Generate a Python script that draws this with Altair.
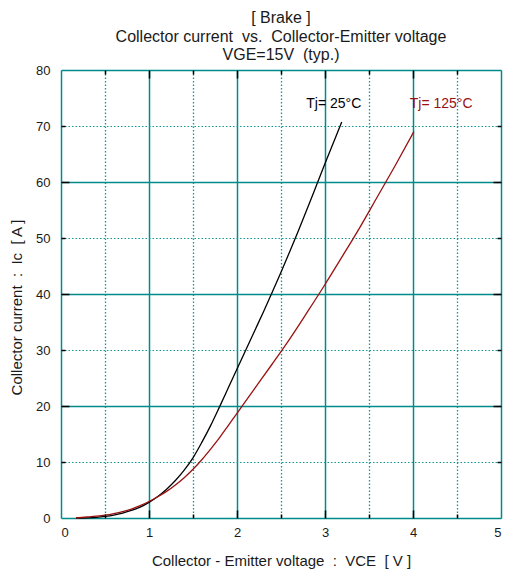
import altair as alt
import pandas as pd

# ---- data ----
vce_25 = [0.17, 0.3, 0.4, 0.5, 0.6, 0.7, 0.8, 0.9, 1.0, 1.1, 1.2, 1.3, 1.4, 1.5, 1.6, 1.7, 1.8, 1.9, 2.0,
          2.1, 2.2, 2.3, 2.4, 2.5, 2.6, 2.7, 2.8, 2.9, 3.0, 3.1, 3.19]
ic_25 = [0.0, 0.04, 0.12, 0.28, 0.52, 0.88, 1.35, 1.95, 2.8, 3.85, 5.15, 6.7, 8.55, 10.75, 13.5, 16.5, 19.8, 23.2, 26.6,
         30.0, 33.4, 36.8, 40.3, 43.9, 47.6, 51.4, 55.3, 59.3, 63.3, 67.2, 70.7]

vce_125 = [0.17, 0.3, 0.4, 0.5, 0.6, 0.7, 0.8, 0.9, 1.0, 1.1, 1.2, 1.3, 1.4, 1.5, 1.6, 1.7, 1.8, 1.9, 2.0,
           2.2, 2.4, 2.6, 2.8, 3.0, 3.2, 3.4, 3.6, 3.8, 4.01]
ic_125 = [0.0, 0.18, 0.33, 0.52, 0.8, 1.15, 1.6, 2.2, 2.95, 3.8, 4.75, 5.9, 7.2, 8.7, 10.4, 12.3, 14.3, 16.5, 18.7,
          23.1, 27.5, 32.0, 36.8, 41.7, 46.8, 52.0, 57.5, 63.0, 69.0]

series_names = ["Tj= 25°C", "Tj= 125°C"]
series_colors = ["#000000", "#991111"]

label_x = [3.1, 4.32]
label_y = [74.0, 74.0]

x_ticks = [0, 0.5, 1, 1.5, 2, 2.5, 3, 3.5, 4, 4.5, 5]
y_ticks = [0, 10, 20, 30, 40, 50, 60, 70, 80]
x_major = [1, 2, 3, 4]
y_major = [20, 40, 60]
x_minor = [0.5, 1.5, 2.5, 3.5, 4.5]
y_minor = [10, 30, 50, 70]

NB = "\u00a0"
title_lines = ["[ Brake ]",
               f"Collector current {NB}vs. {NB}Collector-Emitter voltage",
               f"VGE=15V {NB}(typ.)"]
x_title = f"Collector - Emitter voltage {NB}: {NB}VCE {NB}[ V ]"
y_title = f"Collector current {NB}: {NB}Ic {NB}[ A ]"

FONT = "Liberation Sans"
TEAL = "#008b8b"
TEAL_DOT = "#119595"
TXT = "#1a1a1a"

lines_df = pd.concat([
    pd.DataFrame({"vce": vce_25, "ic": ic_25, "series": series_names[0], "order": range(len(vce_25))}),
    pd.DataFrame({"vce": vce_125, "ic": ic_125, "series": series_names[1], "order": range(len(vce_125))}),
])
labels_df = pd.DataFrame({"vce": label_x, "ic": label_y, "series": series_names})

xscale = alt.Scale(domain=[0, 5], nice=False, zero=False)
yscale = alt.Scale(domain=[0, 80], nice=False, zero=False)
cscale = alt.Scale(domain=series_names, range=series_colors)

x_minor_test = "datum.value % 1 !== 0"
y_minor_test = "datum.value % 20 !== 0"

x_main_axis = alt.Axis(
    values=x_ticks, orient="bottom",
    labelExpr="datum.value % 1 === 0 ? format(datum.value, 'd') : ''",
    tickSize=0, domain=False, grid=True, gridOpacity=1,
    gridWidth={"condition": {"test": x_minor_test, "value": 1.3}, "value": 1.5},
    gridColor={"condition": {"test": x_minor_test, "value": TEAL_DOT}, "value": TEAL},
    gridDash={"condition": {"test": x_minor_test, "value": [1.5, 2]}, "value": []},
    labelFont=FONT, labelFontSize=13, labelColor=TXT, labelPadding=8,
    title=x_title, titleFont=FONT, titleFontSize=15, titleFontWeight="normal",
    titleColor=TXT, titlePadding=14,
)
y_main_axis = alt.Axis(
    values=y_ticks, orient="left",
    labelExpr="format(datum.value, 'd')",
    tickSize=0, domain=False, grid=True, gridOpacity=1,
    gridWidth={"condition": {"test": y_minor_test, "value": 1}, "value": 1.5},
    gridColor={"condition": {"test": y_minor_test, "value": TEAL_DOT}, "value": TEAL},
    gridDash={"condition": {"test": y_minor_test, "value": [1.5, 2]}, "value": []},
    labelFont=FONT, labelFontSize=13, labelColor=TXT, labelPadding=11,
    title=y_title, titleFont=FONT, titleFontSize=15, titleFontWeight="normal",
    titleColor=TXT, titlePadding=11, titleY=237,
)


def tick_axis(values, orient, size):
    return alt.Axis(values=values, orient=orient, offset=-size, tickSize=size,
                    tickColor="black", tickWidth=1.5, labels=False, domain=False,
                    grid=False, title=None, zindex=1)


lines = alt.Chart(lines_df).mark_line(strokeWidth=1.3, interpolate="monotone").encode(
    x=alt.X("vce:Q", scale=xscale, axis=x_main_axis),
    y=alt.Y("ic:Q", scale=yscale, axis=y_main_axis),
    color=alt.Color("series:N", scale=cscale, legend=None),
    detail="series:N",
    order="order:Q",
)

label_text = alt.Chart(labels_df).mark_text(font=FONT, fontSize=14, align="center", baseline="middle").encode(
    x=alt.X("vce:Q", scale=xscale, axis=tick_axis(x_major, "bottom", 8)),
    y=alt.Y("ic:Q", scale=yscale, axis=tick_axis(y_major, "left", 8)),
    color=alt.Color("series:N", scale=cscale, legend=None),
    text="series:N",
)

tick_top_right = alt.Chart(labels_df).mark_point(opacity=0).encode(
    x=alt.X("vce:Q", scale=xscale, axis=tick_axis(x_major, "top", 8)),
    y=alt.Y("ic:Q", scale=yscale, axis=tick_axis(y_major, "right", 8)),
)
minor_bottom_left = alt.Chart(labels_df).mark_point(opacity=0).encode(
    x=alt.X("vce:Q", scale=xscale, axis=tick_axis(x_minor, "bottom", 4)),
    y=alt.Y("ic:Q", scale=yscale, axis=tick_axis(y_minor, "left", 4)),
)
minor_top_right = alt.Chart(labels_df).mark_point(opacity=0).encode(
    x=alt.X("vce:Q", scale=xscale, axis=tick_axis(x_minor, "top", 4)),
    y=alt.Y("ic:Q", scale=yscale, axis=tick_axis(y_minor, "right", 4)),
)

chart = alt.layer(lines, label_text, tick_top_right, minor_bottom_left, minor_top_right).resolve_axis(
    x="independent", y="independent"
).properties(
    width=440, height=448,
    autosize=alt.AutoSizeParams(type="none"),
    padding={"left": 53, "top": 62, "right": 2, "bottom": 57},
    title=alt.TitleParams(text=title_lines, font=FONT, fontSize=16, fontWeight="normal",
                          color=TXT, lineHeight=18.5, anchor="middle", offset=1),
).configure_view(stroke="black", strokeWidth=2).configure(background="white")

chart.save("out.html", embed_options={"renderer": "svg", "actions": False})
